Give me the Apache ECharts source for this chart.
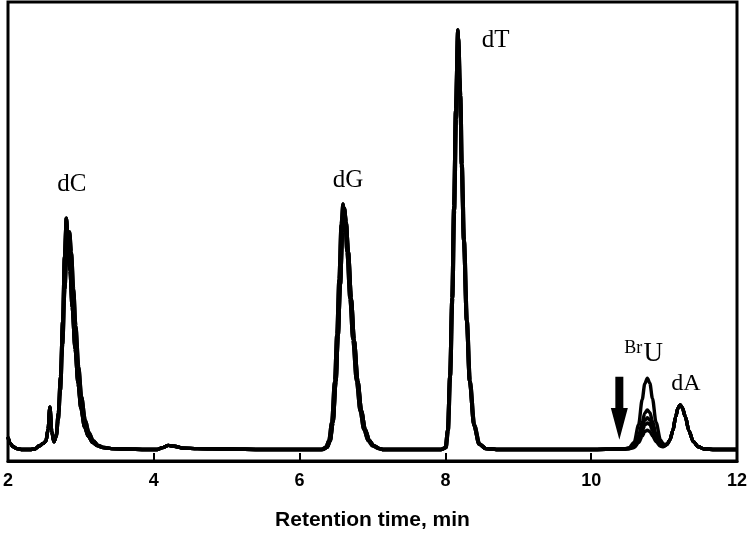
<!DOCTYPE html>
<html>
<head>
<meta charset="utf-8">
<script src="https://cdn.jsdelivr.net/npm/echarts@6/dist/echarts.min.js"></script>
<style>
html,body{margin:0;padding:0;background:#fff;}
#chart{width:751px;height:536px;}
</style>
</head>
<body>
<div id="chart"></div>
<script>
// X axis ticks (min)
const xTicks = [2, 4, 6, 8, 10, 12];
const xAxisTitle = 'Retention time, min';

// Chromatogram segments [time (min), absorbance (a.u.)]
const segStart = [[2.00,2.8],[2.03,1.4],[2.07,0.7],[2.12,0.3],[2.20,0.1],[2.30,0.1],[2.37,0.2],[2.43,0.9],[2.48,1.4],[2.52,1.9],[2.55,4.5],[2.575,9.3],[2.60,4.0],[2.63,1.8]];
const dC_a = [[2.66,3.0],[2.69,8],[2.72,16],[2.75,28],[2.775,42],[2.80,50.4],[2.825,46],[2.85,39],[2.88,31],[2.92,22],[2.96,14.5],[3.00,9],[3.05,5],[3.10,3],[3.16,1.6],[3.23,0.9],[3.30,0.5]];
const dC_b = [[2.66,2.8],[2.69,6.5],[2.72,13],[2.75,23],[2.78,35],[2.81,44],[2.845,47.4],[2.87,43],[2.90,35],[2.93,27],[2.97,18],[3.01,11.5],[3.06,6.5],[3.11,3.8],[3.17,2.0],[3.24,1.0],[3.30,0.6]];
const segMid = [[3.42,0.3],[3.60,0.2],[3.90,0.1],[4.05,0.1],[4.12,0.5],[4.20,1.0],[4.28,0.8],[4.40,0.4],[4.60,0.3],[5.00,0.2],[5.50,0.1],[6.00,0.1],[6.20,0.1]];
const dG_a = [[6.30,0.1],[6.36,0.6],[6.40,2],[6.44,6],[6.48,15],[6.51,25],[6.54,37],[6.57,49],[6.595,53.5],[6.62,50],[6.65,43],[6.69,33],[6.73,24],[6.78,15],[6.83,8.5],[6.88,4.5],[6.94,2],[7.00,0.9],[7.08,0.3],[7.15,0.1]];
const dG_b = [[6.32,0.1],[6.38,0.6],[6.42,2],[6.46,6],[6.50,15],[6.53,25],[6.56,36],[6.59,47.5],[6.615,52.5],[6.64,49.5],[6.67,43],[6.71,33],[6.75,24],[6.80,15],[6.85,8.5],[6.90,4.5],[6.96,2],[7.02,0.9],[7.10,0.3],[7.15,0.1]];
const segGap = [[7.30,0.1],[7.60,0.1],[7.85,0.1]];
const dT_a = [[7.94,0.1],[8.00,0.5],[8.03,4.3],[8.06,16],[8.09,33],[8.115,53],[8.14,74],[8.17,91.3],[8.20,78],[8.22,62],[8.25,45.5],[8.29,28],[8.33,15],[8.39,5.4],[8.46,1.3],[8.55,0.3],[8.70,0.1]];
const dT_b = [[7.95,0.1],[8.01,0.5],[8.04,4.3],[8.07,16],[8.10,33],[8.125,52],[8.15,72],[8.18,89.5],[8.21,77],[8.23,62],[8.26,45.5],[8.30,28],[8.34,15],[8.40,5.4],[8.47,1.3],[8.56,0.3],[8.70,0.1]];
const segLate = [[9.00,0.1],[9.50,0.1],[10.00,0.1],[10.40,0.2]];
const bru1 = [[10.45,0.2],[10.52,0.5],[10.59,1.7],[10.65,5.5],[10.70,11],[10.735,14.4],[10.77,15.6],[10.805,14.5],[10.84,11.2],[10.89,6.0],[10.95,2.2],[10.99,1.3]];
const bru2 = [[10.45,0.2],[10.52,0.35],[10.59,1.0],[10.65,3.1],[10.70,6.1],[10.735,8.0],[10.77,8.7],[10.805,8.1],[10.84,6.3],[10.89,3.4],[10.95,1.4],[10.99,0.9]];
const bru3 = [[10.45,0.2],[10.52,0.3],[10.59,0.8],[10.65,2.5],[10.70,4.9],[10.735,6.4],[10.77,7.0],[10.805,6.5],[10.84,5.0],[10.89,2.8],[10.95,1.2],[10.99,0.8]];
const bru4 = [[10.45,0.2],[10.52,0.3],[10.59,0.7],[10.65,2.1],[10.70,4.1],[10.735,5.4],[10.77,5.9],[10.805,5.5],[10.84,4.3],[10.89,2.4],[10.95,1.0],[10.99,0.8]];
const bru5 = [[10.45,0.2],[10.52,0.25],[10.59,0.55],[10.65,1.6],[10.70,3.0],[10.735,4.0],[10.77,4.3],[10.805,4.0],[10.84,3.1],[10.89,1.8],[10.95,0.8],[10.99,0.7]];
const dA = [[11.04,1.2],[11.08,2.2],[11.12,4.2],[11.16,7.3],[11.19,9.1],[11.22,9.8],[11.25,9.2],[11.29,7.3],[11.34,4.2],[11.40,1.8],[11.47,0.7],[11.55,0.2],[11.70,0.1],[12.00,0.1]];

// Peak labels [text, time, absorbance]
const peakLabels = [['dC',2.876,57.8],['dG',6.665,58.5],['dT',8.69,89.1],['dA',11.30,14.3]];
const bruLabel = {sup:'Br', main:'U', t:10.70, v:21.0};
const arrowPos = {t:10.386, top:15.9, headStart:9.1, tip:2.2};

const traceParts = [
  [segStart, dC_a, segMid, dG_a, segGap, dT_a, segLate, bru1, dA],
  [segStart, dC_b, segMid, dG_b, segGap, dT_b, segLate, bru2, dA],
  [segStart, dC_a, segMid, dG_a, segGap, dT_a, segLate, bru3, dA],
  [segStart, dC_b, segMid, dG_b, segGap, dT_b, segLate, bru4, dA],
  [segStart, dC_a, segMid, dG_b, segGap, dT_a, segLate, bru5, dA]
];

const chart = echarts.init(document.getElementById('chart'), null, {renderer:'canvas'});
const series = traceParts.map((parts, i) => ({
  type:'line',
  name:'trace' + (i+1),
  data:[].concat(...parts),
  showSymbol:false,
  smooth:0.3,
  smoothMonotone:'x',
  lineStyle:{color:'#000', width:3.4},
  itemStyle:{color:'#000'},
  z: 3,
  silent:true
}));

chart.setOption({
  animation:false,
  backgroundColor:'#fff',
  grid:{left:6, right:14, top:2, bottom:75, show:true, borderColor:'#000', borderWidth:3, backgroundColor:'transparent'},
  xAxis:{
    type:'value', min:xTicks[0], max:xTicks[xTicks.length-1], interval:2,
    name:xAxisTitle, nameLocation:'middle', nameGap:49,
    nameTextStyle:{fontFamily:'Liberation Sans', fontWeight:'bold', fontSize:21, color:'#000'},
    axisLine:{show:true, onZero:false, lineStyle:{color:'#000', width:3}},
    axisTick:{show:true, inside:true, length:8, lineStyle:{color:'#000', width:2}},
    axisLabel:{margin:11, fontFamily:'Liberation Sans', fontWeight:'bold', fontSize:18, color:'#000', showMinLabel:true, showMaxLabel:true},
    splitLine:{show:false}
  },
  yAxis:{type:'value', min:-2.4, max:97.4, show:false, splitLine:{show:false}},
  series:series
});

function px(t, v){ return chart.convertToPixel({gridIndex:0}, [t, v]); }
const graphics = [];
peakLabels.forEach(([txt, t, v]) => {
  const p = px(t, v);
  graphics.push({type:'text', x:p[0], y:p[1], style:{text:txt, fontFamily:'Liberation Serif', fontSize: txt==='dA'?24:25, fill:'#000', textAlign:'center', textVerticalAlign:'middle'}, z:10});
});
const bp = px(bruLabel.t, bruLabel.v);
graphics.push({type:'text', x:bp[0]-9, y:bp[1]-5, style:{text:bruLabel.sup, fontFamily:'Liberation Serif', fontSize:18, fill:'#000', textAlign:'center', textVerticalAlign:'middle'}, z:10});
graphics.push({type:'text', x:bp[0]+11, y:bp[1]+1, style:{text:bruLabel.main, fontFamily:'Liberation Serif', fontSize:27, fill:'#000', textAlign:'center', textVerticalAlign:'middle'}, z:10});
const aTop = px(arrowPos.t, arrowPos.top), aHead = px(arrowPos.t, arrowPos.headStart), aTip = px(arrowPos.t, arrowPos.tip);
graphics.push({type:'polygon', shape:{points:[
  [aTop[0]-4, aTop[1]],[aTop[0]+4, aTop[1]],[aHead[0]+4, aHead[1]],[aHead[0]+8.5, aHead[1]],
  [aTip[0], aTip[1]],[aHead[0]-8.5, aHead[1]],[aHead[0]-4, aHead[1]]
]}, style:{fill:'#000'}, z:10});
chart.setOption({graphic:graphics});
</script>
</body>
</html>
